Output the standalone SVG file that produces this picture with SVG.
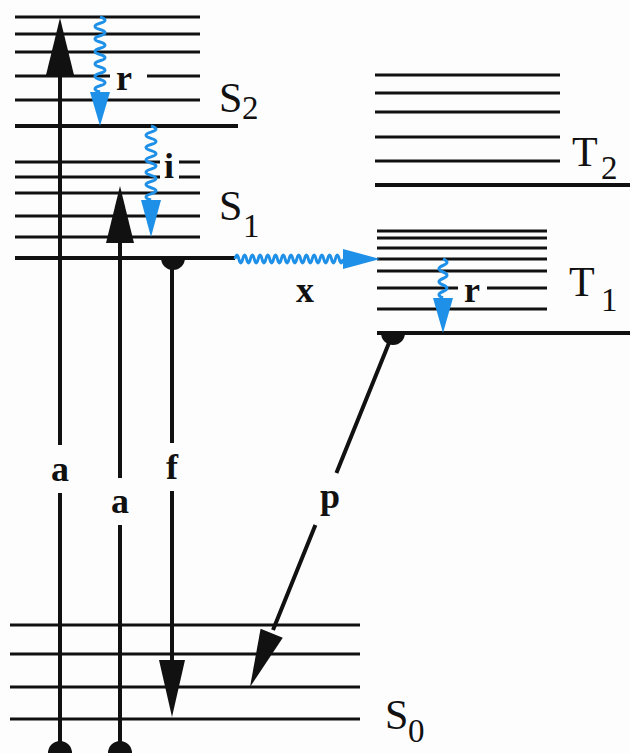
<svg xmlns="http://www.w3.org/2000/svg" width="630" height="753" viewBox="0 0 630 753">
<style>
.lv{stroke:#111;stroke-width:3;fill:none}
.lvb{stroke:#111;stroke-width:4;fill:none}
.ar{stroke:#111;stroke-width:4;fill:none}
.hd{fill:#111;stroke:none}
.wv{stroke:#1e90e8;stroke-width:3;fill:none;stroke-linejoin:round}
.bh{fill:#1e90e8;stroke:none}
.st{font-family:"Liberation Serif","Times New Roman",serif;font-size:42px;fill:#111}
.sb{font-family:"Liberation Serif","Times New Roman",serif;font-size:33px;fill:#111}
.lb{font-family:"Liberation Serif","Times New Roman",serif;font-size:36px;font-weight:bold;fill:#111;text-anchor:middle}
</style>
<rect width="630" height="753" fill="#fdfdfd"/>
<g id="S2">
<path class="lv" d="M15,17H200M15,34H200M15,52H200M15,76H110M147,76H200M15,100H200"/>
<path class="lvb" d="M15,126H238"/>
<text x="219" y="112" class="st">S</text><text x="242" y="119" class="sb">2</text>
</g>
<g id="S1">
<path class="lv" d="M15,162H160M179,162H200M15,177H160M179,177H200M15,193H200M15,216H200M15,237H200"/>
<path class="lvb" d="M15,258H235"/>
<text x="219" y="220" class="st">S</text><text x="243" y="237" class="sb">1</text>
</g>
<g id="T2">
<path class="lv" d="M375,75H560M375,93H560M375,112H560M375,137H560M375,161H560"/>
<path class="lvb" d="M375,185H630"/>
<text x="572" y="166" class="st">T</text><text x="601" y="179" class="sb">2</text>
</g>
<g id="T1">
<path class="lv" d="M377,231H547M377,238H547M377,248H547M377,259H547M377,271H547M377,288H458M487,288H547M377,309H547"/>
<path class="lvb" d="M377,333H630"/>
<text x="569" y="296" class="st">T</text><text x="601" y="311" class="sb">1</text>
</g>
<g id="S0">
<path class="lv" d="M10,625H360M10,654H360M10,687H360M10,719H360"/>
<text x="385" y="729" class="st">S</text><text x="408" y="742" class="sb">0</text>
</g>
<g id="connectors">
<g id="absorption1">
<path class="ar" d="M60,753V493M60,445V70"/>
<polygon class="hd" points="60,18 74,75 46,75"/>
<circle class="hd" cx="60" cy="753" r="12"/>
<text x="60" y="481" class="lb">a</text>
</g>
<g id="absorption2">
<path class="ar" d="M120,753V525M120,478V238"/>
<polygon class="hd" points="120,186 134,243 106,243"/>
<circle class="hd" cx="120" cy="753" r="12"/>
<text x="120" y="513" class="lb">a</text>
</g>
<g id="fluorescence">
<path class="hd" d="M161,258A12,12 0 0 0 185,258Z"/>
<path class="ar" d="M172,258V443M172,491V665"/>
<polygon class="hd" points="172,717 185,660 159,660"/>
<text x="172" y="479" class="lb">f</text>
</g>
<g id="phosphorescence">
<path class="hd" d="M381,333A12,12 0 0 0 405,333Z"/>
<path class="ar" d="M393,333L336.4,473M315.4,525L273,630"/>
<polygon class="hd" points="250,687 282.8,637.7 260.6,628.7"/>
<text x="330" y="508" class="lb">p</text>
</g>
<g id="relax-S2">
<path class="wv" d="M100,17 q10,3.125 0,6.25 t0,6.25 t0,6.25 t0,6.25 t0,6.25 t0,6.25 t0,6.25 t0,6.25 t0,6.25 t0,6.25 t0,6.25 t0,6.25"/>
<polygon class="bh" points="100,126 110,92 90,92"/>
<text x="124" y="90" class="lb">r</text>
</g>
<g id="ic">
<path class="wv" d="M151,126 q10,3.08 0,6.17 t0,6.17 t0,6.17 t0,6.17 t0,6.17 t0,6.17 t0,6.17 t0,6.17 t0,6.17 t0,6.17 t0,6.17 t0,6.17"/>
<polygon class="bh" points="151,237 161,200 141,200"/>
<text x="169" y="178" class="lb">i</text>
</g>
<g id="isc">
<path class="wv" d="M235,259 q1.93,-8 3.86,0 t3.86,0 t3.86,0 t3.86,0 t3.86,0 t3.86,0 t3.86,0 t3.86,0 t3.86,0 t3.86,0 t3.86,0 t3.86,0 t3.86,0 t3.86,0 t3.86,0 t3.86,0 t3.86,0 t3.86,0 t3.86,0 t3.86,0 t3.86,0 t3.86,0 t3.86,0 t3.86,0 t3.86,0 t3.86,0 t3.86,0 t3.86,0"/>
<polygon class="bh" points="380,259 343,249 343,269"/>
<text x="305" y="302" class="lb">x</text>
</g>
<g id="relax-T1">
<path class="wv" d="M443,259 q8,3.25 0,6.5 t0,6.5 t0,6.5 t0,6.5 t0,6.5 t0,6.5"/>
<polygon class="bh" points="443,333 453,298 433,298"/>
<text x="472" y="302" class="lb">r</text>
</g>
</g>
</svg>
